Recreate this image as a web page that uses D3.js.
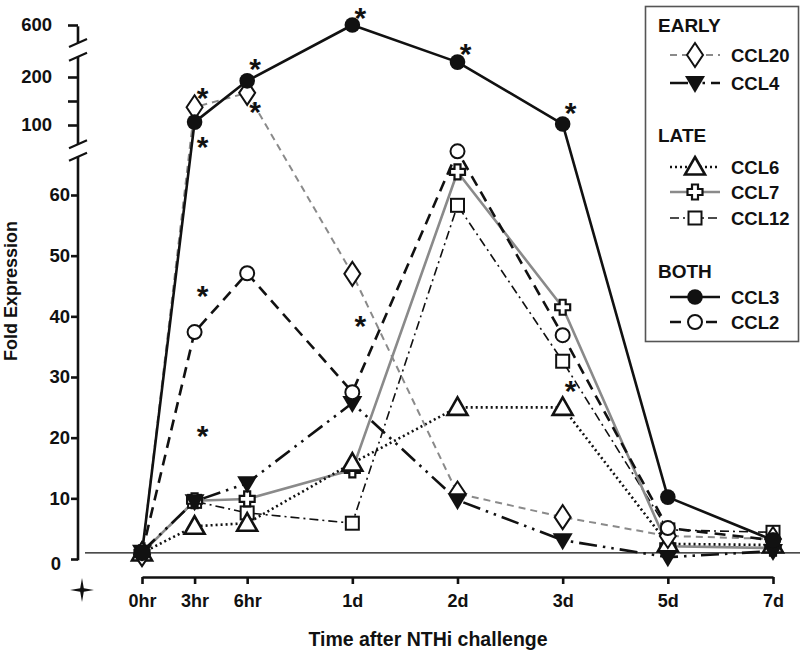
<!DOCTYPE html>
<html><head><meta charset="utf-8">
<script src="https://cdn.jsdelivr.net/npm/d3@7"></script>
<style>
body{margin:0;background:#fff}
svg text{font-family:"Liberation Sans",Arial,Helvetica,sans-serif;font-weight:bold;fill:#111}
</style>
</head><body>
<svg id="chart" width="800" height="651"></svg>
<script>
// ---------- data ----------
const times = ["0hr","3hr","6hr","1d","2d","3d","5d","7d"];
const timeSlots = [0,1,2,4,6,8,10,12];
const ccl20 = [0.8, 137, 167, 47, 10.8, 6.9, 3.8, 3.3];
const ccl4  = [1.2, 9.5, 12.5, 25.7, 9.7, 3.1, 0.3, 1.3];
const ccl6  = [1, 5.4, 5.9, 15.8, 25, 25, 2.5, 2.3];
const ccl7  = [1, 9.6, 9.9, 14.7, 63.8, 41.5, 2.1, 1.8];
const ccl12 = [1, 9.5, 7.6, 5.9, 58.3, 32.6, 4.8, 4.4];
const ccl3  = [1, 106, 192, 600, 231, 102, 10.2, 3.1];
const ccl2  = [1, 37.4, 47.1, 27.5, 67.2, 36.9, 5.1, 3.1];
const lowTicks = [0,10,20,30,40,50,60];
const midTicks = [100,150,200];
const midLabels = [100,200];
const topTicks = [600];
const baselineFold = 1;
// significance asterisks: time, value, axis segment
const stars = [
  {t:"3hr", v:169, s:"mid"}, {t:"3hr", v:68.7, s:"mid"},
  {t:"6hr", v:231, s:"mid"}, {t:"6hr", v:141, s:"mid"},
  {t:"1d",  v:629, s:"top"}, {t:"2d",  v:262, s:"mid"},
  {t:"3d",  v:139, s:"mid"},
  {t:"3hr", v:44.5, s:"lo"}, {t:"3hr", v:21.3, s:"lo"},
  {t:"1d",  v:39.4, s:"lo"}, {t:"3d",  v:28.7, s:"lo"}
];

// ---------- styles ----------
const GRAY = "#8a8a8a";
const series = [
  {name:"CCL12", vals:ccl12, color:"#111", width:1.6, dash:"9,4,2,4", marker:"square"},
  {name:"CCL7",  vals:ccl7,  color:GRAY,  width:2.6, dash:null,      marker:"cross"},
  {name:"CCL6",  vals:ccl6,  color:"#111", width:2.6, dash:"2,3",     marker:"triUp"},
  {name:"CCL20", vals:ccl20, color:GRAY,  width:2,   dash:"7,5",     marker:"diamond"},
  {name:"CCL4",  vals:ccl4,  color:"#111", width:2.6, dash:"18,6,2.5,6,2.5,6", marker:"triDown"},
  {name:"CCL2",  vals:ccl2,  color:"#111", width:2.6, dash:"11,7",    marker:"openCircle"},
  {name:"CCL3",  vals:ccl3,  color:"#111", width:2.6, dash:null,      marker:"dot"}
];
const byName = Object.fromEntries(series.map(s=>[s.name,s]));

const svg = d3.select("#chart");

// ---------- scales ----------
const x = d3.scaleLinear().domain([0,12]).range([142,773]);
const slotOf = Object.fromEntries(times.map((t,i)=>[t,timeSlots[i]]));
const yLo  = d3.scaleLinear().domain([0,60]).range([559,195]);
const yMid = d3.scaleLinear().domain([100,200]).range([125,77]);
const yTop = d3.scaleLinear().domain([600,700]).range([25,-23]);
const segOf = v => v>=400 ? "top" : (v>=80 ? "mid" : "lo");
const yv = (v,s) => { s = s||segOf(v); return s==="top"?yTop(v):(s==="mid"?yMid(v):yLo(v)); };

const AX = 78;
// ---------- y axis (broken) ----------
const axW = 2.6;
function styleAxis(g, fs){
  g.select(".domain").remove();
  g.selectAll(".tick line").attr("stroke","#111").attr("stroke-width",axW);
  g.selectAll(".tick text").attr("font-size",fs).attr("font-family",null).attr("fill","#111");
}
const gLo = svg.append("g").attr("transform",`translate(${AX},0)`)
  .call(d3.axisLeft(yLo).tickValues(lowTicks).tickSize(7).tickPadding(1).tickFormat(d3.format("d")));
styleAxis(gLo, 18.5);
gLo.selectAll(".tick").filter(d=>d===0).select("text").attr("x",-17).attr("dy","0.55em");

const gMid = svg.append("g").attr("transform",`translate(${AX},0)`)
  .call(d3.axisLeft(yMid).tickValues(midTicks).tickSize(10).tickPadding(16)
        .tickFormat(d=>midLabels.includes(d)?d:""));
styleAxis(gMid, 18.5);
const gTop = svg.append("g").attr("transform",`translate(${AX},0)`)
  .call(d3.axisLeft(yTop).tickValues(topTicks).tickSize(10).tickPadding(16));
styleAxis(gTop, 18.5);

// axis segment lines
const segs = [
  [yLo(0), yLo(66.3)],
  [yMid(60), yMid(242)],
  [yTop(600), yTop(562.5)]
];
segs.forEach(([a,b])=>{
  svg.append("line").attr("x1",AX).attr("x2",AX).attr("y1",a+(a===yLo(0)||a===yTop(600)?axW/2:0)).attr("y2",b)
    .attr("stroke","#111").attr("stroke-width",axW);
});
// break marks
[yLo(66.3), yMid(60), yMid(242), yTop(562.5)].forEach(yy=>{
  svg.append("line").attr("x1",AX-9).attr("x2",AX+9).attr("y1",yy+4).attr("y2",yy-4)
    .attr("stroke","#111").attr("stroke-width",2.2);
});

// ---------- x axis ----------
const gx = svg.append("g").attr("transform","translate(0,577)")
  .call(d3.axisBottom(x).tickValues(timeSlots).tickFormat((d,i)=>times[i]).tickSize(7).tickSizeOuter(0).tickPadding(10));
gx.select(".domain").attr("stroke","#111").attr("stroke-width",axW);
gx.selectAll(".tick line").attr("stroke","#111").attr("stroke-width",axW);
gx.selectAll(".tick text").attr("font-size",18).attr("font-family",null).attr("fill","#111");

// four-point star symbol
(function(){
  const cx=82, cy=590, R=12, r=1.8;
  const p=d3.path();
  p.moveTo(cx,cy-R); p.lineTo(cx+r,cy-r); p.lineTo(cx+R,cy); p.lineTo(cx+r,cy+r);
  p.lineTo(cx,cy+R); p.lineTo(cx-r,cy+r); p.lineTo(cx-R,cy); p.lineTo(cx-r,cy-r); p.closePath();
  svg.append("path").attr("d",p.toString()).attr("fill","#111");
})();

// titles
svg.append("text").attr("x",428).attr("y",646).attr("text-anchor","middle").attr("font-size",19.5)
  .text("Time after NTHi challenge");
svg.append("text").attr("transform","translate(17,291) rotate(-90)").attr("text-anchor","middle")
  .attr("font-size",18).text("Fold Expression");

// baseline (1-fold)
svg.append("line").attr("x1",85).attr("x2",800).attr("y1",yLo(baselineFold)).attr("y2",yLo(baselineFold))
  .attr("stroke","#111").attr("stroke-width",1.3);

// ---------- lines ----------
const line = d3.line().x((d,i)=>x(timeSlots[i])).y(d=>yv(d));
series.forEach(s=>{
  svg.append("path").attr("d",line(s.vals)).attr("fill","none")
    .attr("stroke",s.color).attr("stroke-width",s.width)
    .attr("stroke-dasharray",s.dash).attr("stroke-linejoin","round");
});

// ---------- markers ----------
function drawMarker(g, type, cx, cy){
  const t = `translate(${cx},${cy})`;
  switch(type){
    case "dot": g.append("circle").attr("cx",cx).attr("cy",cy).attr("r",7.8).attr("fill","#111"); break;
    case "openCircle": g.append("circle").attr("cx",cx).attr("cy",cy).attr("r",7).attr("fill","#fff").attr("stroke","#111").attr("stroke-width",2); break;
    case "diamond": g.append("path").attr("transform",t).attr("d","M0,-12L8,0L0,12L-8,0Z").attr("fill","#fff").attr("stroke","#111").attr("stroke-width",2); break;
    case "triUp": g.append("path").attr("transform",t).attr("d","M0,-10L10,7.5L-10,7.5Z").attr("fill","#fff").attr("stroke","#111").attr("stroke-width",2.6).attr("stroke-linejoin","miter"); break;
    case "triDown": g.append("path").attr("transform",t).attr("d","M-10,-7L10,-7L0,10Z").attr("fill","#111"); break;
    case "cross": g.append("path").attr("transform",t).attr("d","M-3,-7.5H3V-3H7.5V3H3V7.5H-3V3H-7.5V-3H-3Z").attr("fill","#fff").attr("stroke","#111").attr("stroke-width",2.2); break;
    case "square": g.append("rect").attr("x",cx-6.5).attr("y",cy-6.5).attr("width",13).attr("height",13).attr("fill","#fff").attr("stroke","#111").attr("stroke-width",2); break;
  }
}
const gm = svg.append("g");
series.forEach(s=>{
  s.vals.forEach((v,i)=>drawMarker(gm, s.marker, x(timeSlots[i]), yv(v)));
});

// ---------- asterisks ----------
const STAR_FS = 30;
svg.append("g").selectAll("text").data(stars).join("text")
  .attr("x",d=>x(slotOf[d.t])+8).attr("y",d=>yv(d.v,d.s)+STAR_FS*0.55)
  .attr("text-anchor","middle").attr("font-size",STAR_FS).text("*");

// ---------- legend ----------
const lg = svg.append("g");
lg.append("rect").attr("x",645.5).attr("y",6.5).attr("width",153).attr("height",335)
  .attr("fill","#fff").attr("stroke","#555").attr("stroke-width",1.6);
const groups = [
  {head:"EARLY", hy:32, items:[["CCL20",55],["CCL4",83]]},
  {head:"LATE",  hy:142, items:[["CCL6",167],["CCL7",192],["CCL12",218]]},
  {head:"BOTH",  hy:278, items:[["CCL3",297],["CCL2",322]]}
];
groups.forEach(gr=>{
  lg.append("text").attr("x",658).attr("y",gr.hy).attr("font-size",19).text(gr.head);
  gr.items.forEach(([nm,yy])=>{
    const s = byName[nm];
    lg.append("line").attr("x1",670).attr("x2",720).attr("y1",yy).attr("y2",yy)
      .attr("stroke",s.color).attr("stroke-width",s.width).attr("stroke-dasharray",s.dash);
    drawMarker(lg, s.marker, 695, yy);
    lg.append("text").attr("x",731).attr("y",yy+7).attr("font-size",18.5).text(nm);
  });
});
</script>
</body></html>
